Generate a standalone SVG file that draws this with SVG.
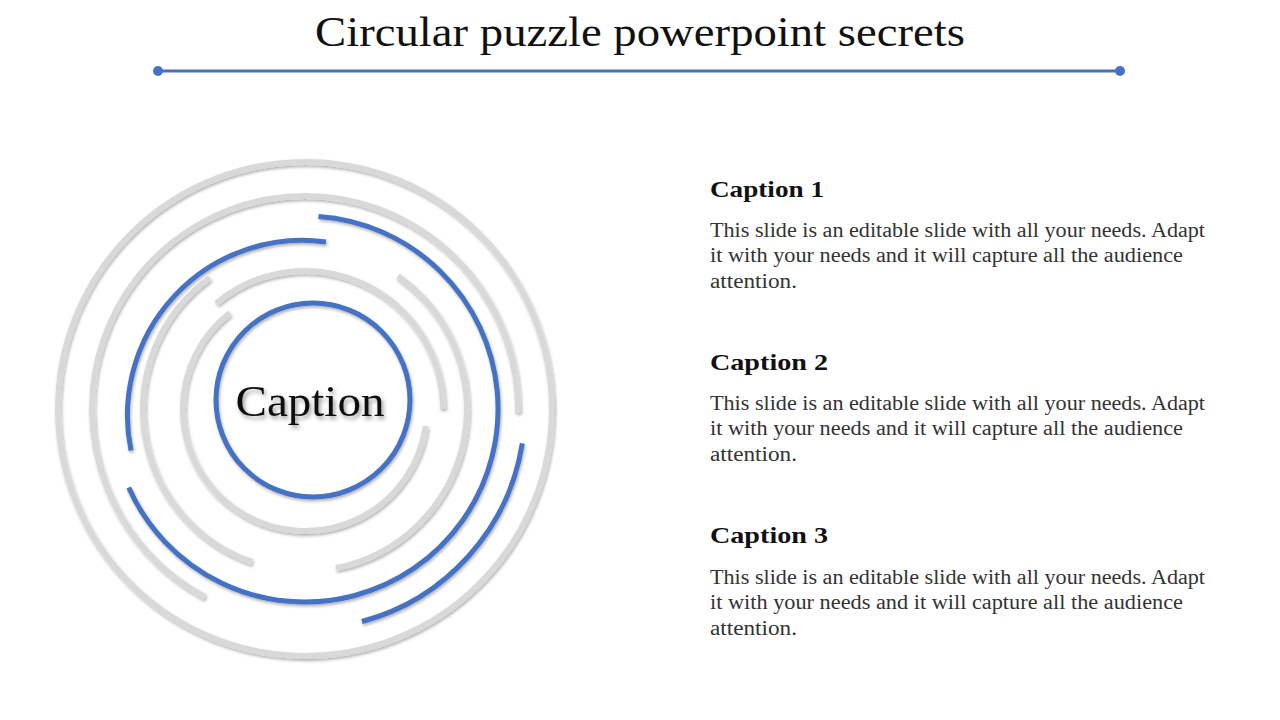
<svg xmlns="http://www.w3.org/2000/svg" width="1280" height="720" viewBox="0 0 1280 720">
<defs>
<filter id="sh" x="-20%" y="-20%" width="140%" height="140%"><feDropShadow dx="1" dy="2" stdDeviation="1.5" flood-color="#000" flood-opacity="0.3"/></filter>
<filter id="tsh" x="-20%" y="-20%" width="140%" height="140%"><feDropShadow dx="2" dy="3" stdDeviation="2" flood-color="#000" flood-opacity="0.4"/></filter>
</defs>
<style>
.g{fill:none;stroke:#d9d9d9;stroke-width:6}
.b{fill:none;stroke:#4472c4;stroke-width:5}
.cap{font-family:"Liberation Serif",Georgia,serif;font-weight:bold;font-size:23px;fill:#111}
.body{font-family:"Liberation Serif",Georgia,serif;font-size:20px;fill:#333}
</style>
<rect width="1280" height="720" fill="#fff"/>
<g id="title">
<text x="640" y="46" text-anchor="middle" font-family="Liberation Serif, Georgia, serif" font-size="42" fill="#111" textLength="650" lengthAdjust="spacingAndGlyphs">Circular puzzle powerpoint secrets</text>
<line x1="158" y1="71" x2="1120" y2="71" stroke="#4472c4" stroke-width="3"/>
<circle cx="158" cy="71" r="5" fill="#4472c4"/>
<circle cx="1120" cy="71" r="5" fill="#4472c4"/>
</g>
<g id="rings" filter="url(#sh)">
<circle class="g" cx="305" cy="409" r="247"/>
<path class="g" d="M205.1,597.1 A213,213 0 1 1 518,412.7"/>
<path class="b" d="M522.3,443.4 A220,220 0 0 1 361.9,621.5"/>
<path class="b" d="M318.5,216.5 A193,193 0 1 1 128.7,487.5"/>
<path class="b" d="M131,450.6 A175,175 0 0 1 326,242"/>
<path class="g" d="M252.3,562.2 A162,162 0 0 1 209.8,277.9"/>
<path class="g" d="M397.9,276.3 A162,162 0 0 1 335.9,568"/>
<path class="g" d="M216.3,303.3 A138,138 0 0 1 443,409"/>
<path class="g" d="M425.8,426 A122,122 0 1 1 229.9,312.9"/>
<circle class="b" cx="313" cy="400" r="97"/>
</g>
<g id="center">
<text x="310" y="416" text-anchor="middle" font-family="Liberation Serif, Georgia, serif" font-size="44" fill="#111" filter="url(#tsh)" textLength="149" lengthAdjust="spacingAndGlyphs">Caption</text>
</g>
<g id="caption1">
<text class="cap" x="710" y="197" textLength="114" lengthAdjust="spacingAndGlyphs">Caption 1</text>
<text class="body" x="710" y="237" textLength="495" lengthAdjust="spacingAndGlyphs">This slide is an editable slide with all your needs. Adapt</text>
<text class="body" x="710" y="262" textLength="473" lengthAdjust="spacingAndGlyphs">it with your needs and it will capture all the audience</text>
<text class="body" x="710" y="288" textLength="87" lengthAdjust="spacingAndGlyphs">attention.</text>
</g>
<g id="caption2">
<text class="cap" x="710" y="370" textLength="118" lengthAdjust="spacingAndGlyphs">Caption 2</text>
<text class="body" x="710" y="410" textLength="495" lengthAdjust="spacingAndGlyphs">This slide is an editable slide with all your needs. Adapt</text>
<text class="body" x="710" y="435" textLength="473" lengthAdjust="spacingAndGlyphs">it with your needs and it will capture all the audience</text>
<text class="body" x="710" y="461" textLength="87" lengthAdjust="spacingAndGlyphs">attention.</text>
</g>
<g id="caption3">
<text class="cap" x="710" y="543" textLength="118" lengthAdjust="spacingAndGlyphs">Caption 3</text>
<text class="body" x="710" y="584" textLength="495" lengthAdjust="spacingAndGlyphs">This slide is an editable slide with all your needs. Adapt</text>
<text class="body" x="710" y="609" textLength="473" lengthAdjust="spacingAndGlyphs">it with your needs and it will capture all the audience</text>
<text class="body" x="710" y="635" textLength="87" lengthAdjust="spacingAndGlyphs">attention.</text>
</g>
</svg>
